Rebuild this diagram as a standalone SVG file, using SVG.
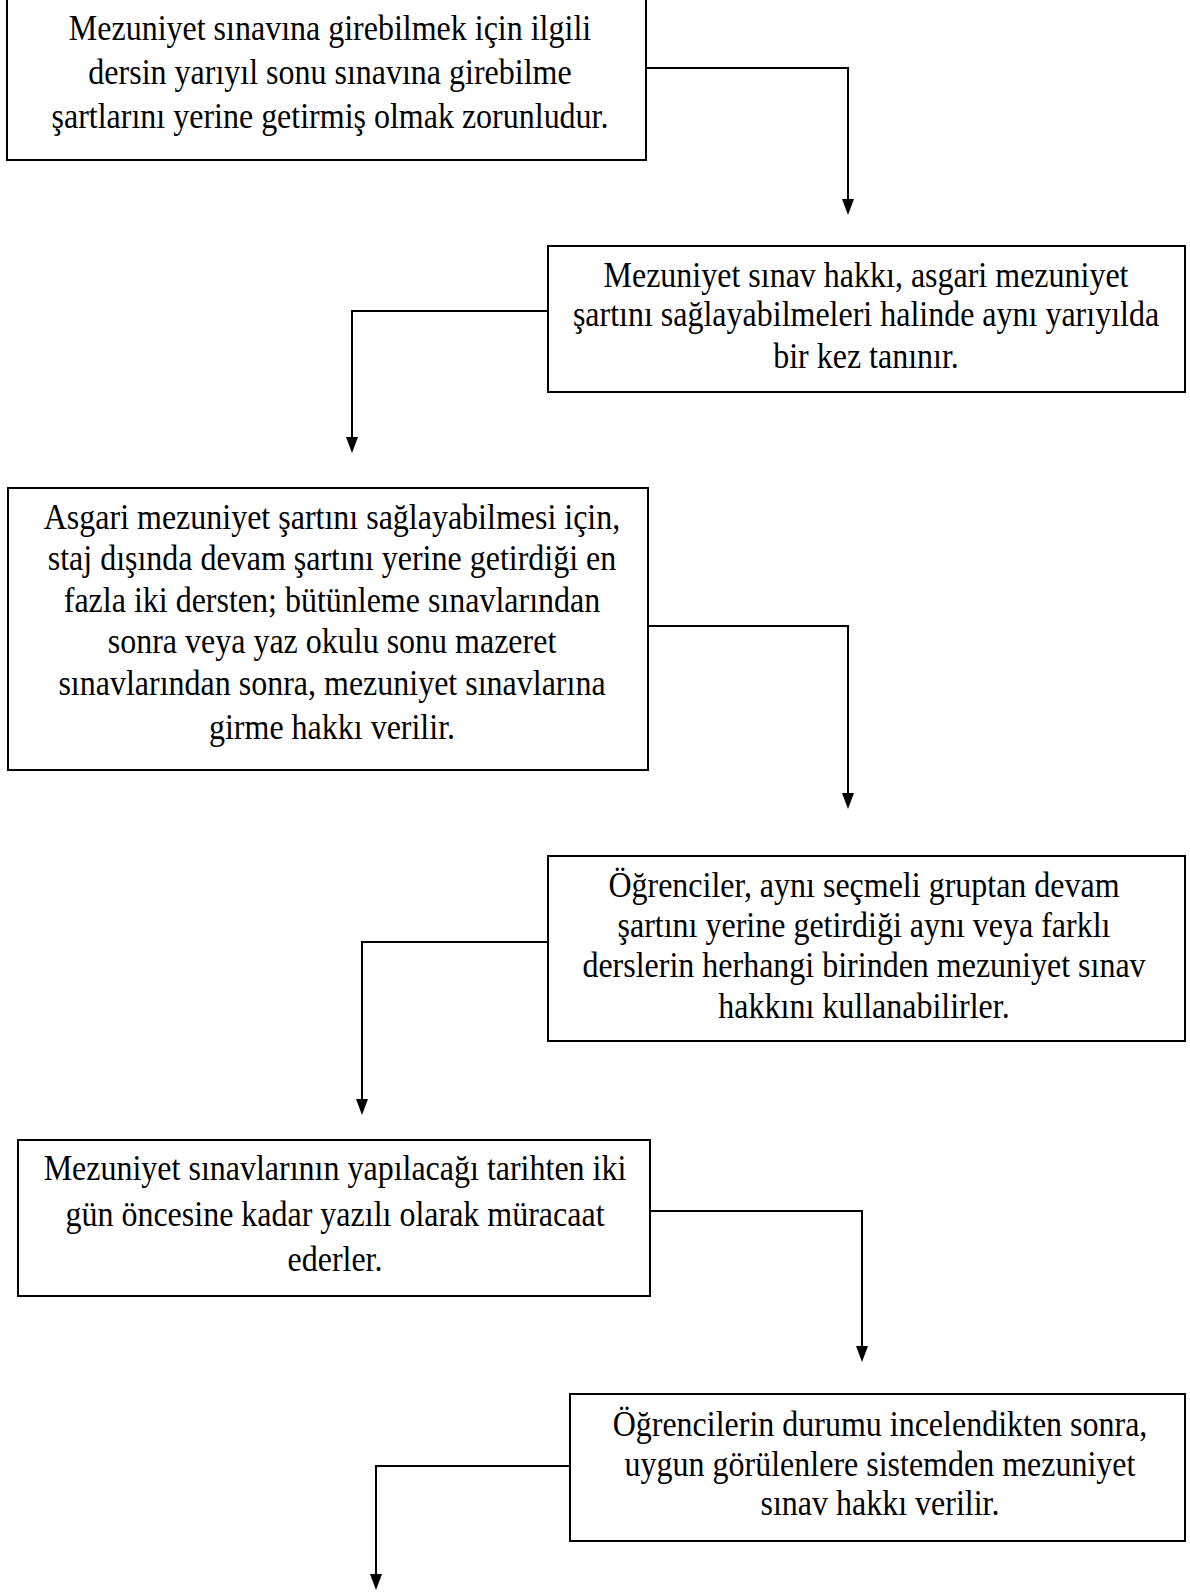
<svg xmlns="http://www.w3.org/2000/svg" width="1190" height="1593" viewBox="0 0 1190 1593">
<style>
.box{fill:#fff;stroke:#000;stroke-width:2}
.t{font-family:"Liberation Serif","Times New Roman",serif;font-size:32px;fill:#000;text-anchor:middle}
.c{fill:none;stroke:#000;stroke-width:2}
</style>
<rect width="1190" height="1593" fill="#fff"/>
<g id="connectors">
<polyline class="c" points="646,68 848,68 848,199"/>
<path d="M842,199 L854,199 L848,215 Z"/>
<polyline class="c" points="548,311 352,311 352,437"/>
<path d="M346,437 L358,437 L352,453 Z"/>
<polyline class="c" points="648,626 848,626 848,793"/>
<path d="M842,793 L854,793 L848,809 Z"/>
<polyline class="c" points="548,942 362,942 362,1099"/>
<path d="M356,1099 L368,1099 L362,1115 Z"/>
<polyline class="c" points="650,1211 862,1211 862,1346"/>
<path d="M856,1346 L868,1346 L862,1362 Z"/>
<polyline class="c" points="570,1466 376,1466 376,1574"/>
<path d="M370,1574 L382,1574 L376,1590 Z"/>
</g>
<g id="n1">
<rect class="box" x="7" y="-10" width="639" height="170"/>
<text class="t" transform="translate(330,40) scale(1,1.1)">Mezuniyet sınavına girebilmek için ilgili</text>
<text class="t" transform="translate(330,84) scale(1,1.1)">dersin yarıyıl sonu sınavına girebilme</text>
<text class="t" transform="translate(330,128) scale(1,1.1)">şartlarını yerine getirmiş olmak zorunludur.</text>
</g>
<g id="n2">
<rect class="box" x="548" y="246" width="637" height="146"/>
<text class="t" transform="translate(866,287) scale(1,1.1)">Mezuniyet sınav hakkı, asgari mezuniyet</text>
<text class="t" transform="translate(866,326) scale(1,1.1)">şartını sağlayabilmeleri halinde aynı yarıyılda</text>
<text class="t" transform="translate(866,368) scale(1,1.1)">bir kez tanınır.</text>
</g>
<g id="n3">
<rect class="box" x="8" y="488" width="640" height="282"/>
<text class="t" transform="translate(332,529) scale(1,1.1)">Asgari mezuniyet şartını sağlayabilmesi için,</text>
<text class="t" transform="translate(332,570) scale(1,1.1)">staj dışında devam şartını yerine getirdiği en</text>
<text class="t" transform="translate(332,612) scale(1,1.1)">fazla iki dersten; bütünleme sınavlarından</text>
<text class="t" transform="translate(332,653) scale(1,1.1)">sonra veya yaz okulu sonu mazeret</text>
<text class="t" transform="translate(332,695) scale(1,1.1)">sınavlarından sonra, mezuniyet sınavlarına</text>
<text class="t" transform="translate(332,739) scale(1,1.1)">girme hakkı verilir.</text>
</g>
<g id="n4">
<rect class="box" x="548" y="856" width="637" height="185"/>
<text class="t" transform="translate(864,897) scale(1,1.1)">Öğrenciler, aynı seçmeli gruptan devam</text>
<text class="t" transform="translate(864,937) scale(1,1.1)">şartını yerine getirdiği aynı veya farklı</text>
<text class="t" transform="translate(864,977) scale(1,1.1)">derslerin herhangi birinden mezuniyet sınav</text>
<text class="t" transform="translate(864,1018) scale(1,1.1)">hakkını kullanabilirler.</text>
</g>
<g id="n5">
<rect class="box" x="18" y="1140" width="632" height="156"/>
<text class="t" transform="translate(335,1180) scale(1,1.1)">Mezuniyet sınavlarının yapılacağı tarihten iki</text>
<text class="t" transform="translate(335,1226) scale(1,1.1)">gün öncesine kadar yazılı olarak müracaat</text>
<text class="t" transform="translate(335,1271) scale(1,1.1)">ederler.</text>
</g>
<g id="n6">
<rect class="box" x="570" y="1394" width="615" height="147"/>
<text class="t" transform="translate(880,1436) scale(1,1.1)">Öğrencilerin durumu incelendikten sonra,</text>
<text class="t" transform="translate(880,1476) scale(1,1.1)">uygun görülenlere sistemden mezuniyet</text>
<text class="t" transform="translate(880,1515) scale(1,1.1)">sınav hakkı verilir.</text>
</g>
</svg>
